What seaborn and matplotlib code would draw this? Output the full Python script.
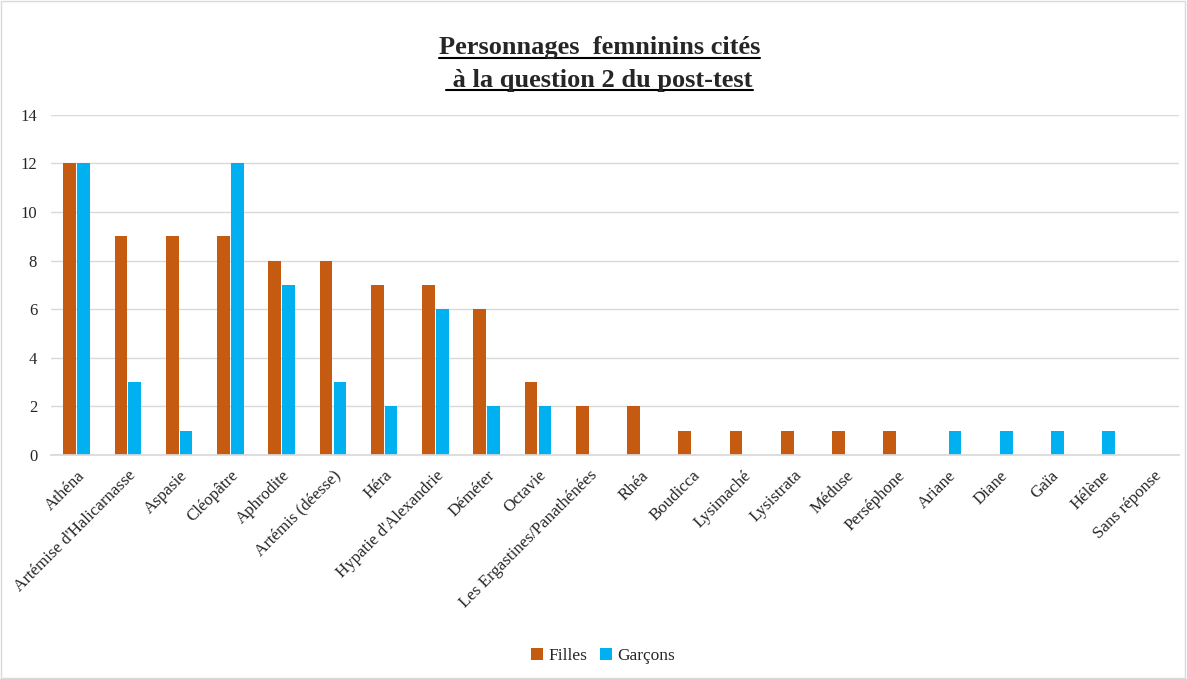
import matplotlib
matplotlib.use("Agg")
import pandas as pd
import matplotlib.pyplot as plt
import seaborn as sns
from matplotlib.lines import Line2D
from matplotlib.patches import Rectangle

# données
personnages = ["Athéna", "Artémise d'Halicarnasse", "Aspasie", "Cléopâtre", "Aphrodite",
               "Artémis (déesse)", "Héra", "Hypatie d'Alexandrie", "Déméter", "Octavie",
               "Les Ergastines/Panathénées", "Rhéa", "Boudicca", "Lysimaché", "Lysistrata",
               "Méduse", "Perséphone", "Ariane", "Diane", "Gaïa", "Hélène", "Sans réponse"]
filles = [12, 9, 9, 9, 8, 8, 7, 7, 6, 3, 2, 2, 1, 1, 1, 1, 1, 0, 0, 0, 0, 0]
garcons = [12, 3, 1, 12, 7, 3, 2, 6, 2, 2, 0, 0, 0, 0, 0, 0, 0, 1, 1, 1, 1, 0]
series = ["Filles", "Garçons"]
couleurs = ["#C55A11", "#00B0F0"]

df = pd.DataFrame({"personnage": personnages * 2,
                   "groupe": [series[0]] * len(filles) + [series[1]] * len(garcons),
                   "valeur": filles + garcons})

sns.set_theme(style="white")
plt.rcParams['font.family'] = ['Liberation Serif', 'DejaVu Serif']

fig = plt.figure(figsize=(11.87, 6.79), dpi=100)
ax = fig.add_axes([0.043, 0.33, 0.95, 0.501])

sns.barplot(data=df, x="personnage", y="valeur", hue="groupe", palette=couleurs,
            width=0.54, gap=0.08, ax=ax, saturation=1, legend=True, linewidth=0)

ax.set_ylim(0, 14)
ax.set_xlim(-0.5, len(personnages) - 0.5)
ax.set_yticks(range(0, 15, 2))
ax.yaxis.grid(True, color="#D9D9D9", linewidth=1)
ax.set_axisbelow(True)
for s in ["top", "right", "left"]:
    ax.spines[s].set_visible(False)
ax.spines["bottom"].set_color("#D9D9D9")
ax.set_xlabel("")
ax.set_ylabel("")
ax.tick_params(axis="y", labelsize=12, pad=10, length=0)
ax.tick_params(axis="x", labelsize=12.2, pad=9, length=0)
plt.setp(ax.get_xticklabels(), rotation=45, ha="right", rotation_mode="anchor")

handles, labels = ax.get_legend_handles_labels()
ax.get_legend().remove()
fig.legend(handles, labels, loc="center", bbox_to_anchor=(0.508, 0.034), ncol=2,
           frameon=False, fontsize=12.5, handlelength=0.7, handleheight=0.7,
           handletextpad=0.3, columnspacing=0.7)

# titre souligné
t1 = fig.text(0.505, 0.93, "Personnages  femninins cités", ha="center", va="center",
              fontsize=19, fontweight="bold")
t2 = fig.text(0.505, 0.882, " à la question 2 du post-test", ha="center", va="center",
              fontsize=19, fontweight="bold")
fig.canvas.draw()
r = fig.canvas.get_renderer()
for t in (t1, t2):
    bb = t.get_window_extent(r).transformed(fig.transFigure.inverted())
    y = bb.y0 + 0.002
    fig.add_artist(Line2D([bb.x0, bb.x1], [y, y], color="black", linewidth=1.5,
                          transform=fig.transFigure))

fig.add_artist(Rectangle((0.001, 0.001), 0.997, 0.997, transform=fig.transFigure,
                         fill=False, edgecolor="#D9D9D9", linewidth=1))

plt.savefig("out.png", dpi=100)
plt.close()
